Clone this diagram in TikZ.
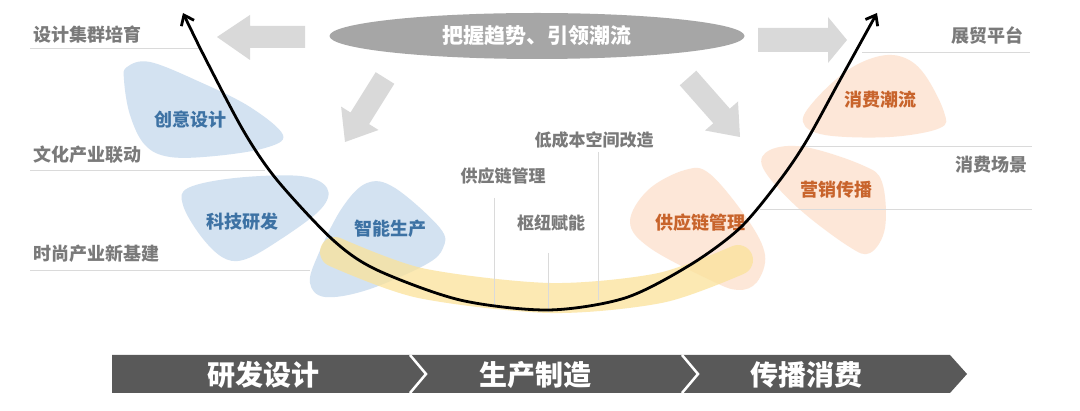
\documentclass[tikz,border=0pt]{standalone}
\usepackage{fontspec}
\newfontfamily\cjk{Noto Sans CJK SC}[BoldFont={Noto Sans CJK SC Black}]
\usetikzlibrary{arrows.meta,shapes.geometric}
\definecolor{labelgray}{HTML}{7A7A7A}
\definecolor{ellgray}{HTML}{A6A6A6}
\definecolor{arrgray}{HTML}{D9D9D9}
\definecolor{blobblue}{HTML}{D3E2F1}
\definecolor{txtblue}{HTML}{3D72A4}
\definecolor{bloborange}{HTML}{FDE7D8}
\definecolor{txtorange}{HTML}{C8642C}
\definecolor{bandyellow}{HTML}{FBE29A}
\definecolor{bargray}{HTML}{595959}
\definecolor{linegray}{HTML}{DADADA}
\tikzset{
  lbl/.style={font=\cjk\bfseries\fontsize{18}{18}\selectfont, text=labelgray, inner sep=0pt},
  mid/.style={font=\cjk\bfseries\fontsize{17}{17}\selectfont, text=labelgray, inner sep=0pt},
  bluetxt/.style={font=\cjk\bfseries\fontsize{18}{18}\selectfont, text=txtblue, inner sep=0pt},
  oratxt/.style={font=\cjk\bfseries\fontsize{18}{18}\selectfont, text=txtorange, inner sep=0pt},
  bartxt/.style={font=\cjk\bfseries\fontsize{28}{28}\selectfont, text=white, inner sep=0pt},
  hline/.style={draw=linegray, line width=0.8pt},
  vline/.style={draw=linegray, line width=0.8pt},
  blobb/.style={fill=blobblue},
  bloba/.style={fill=bloborange},
  blockarrow/.style={fill=arrgray},
}
\begin{document}
\begin{tikzpicture}[x=1pt,y=-1pt]
\useasboundingbox (0,0) rectangle (1080,411);
\fill[white] (0,0) rectangle (1080,411);

% blobs
\fill[blobb] plot[smooth cycle, tension=0.6] coordinates {(127,67) (150,62) (200,82) (250,107) (283,135) (265,148) (215,156) (170,157) (145,145) (130,115) (124,80)};
\fill[blobb] plot[smooth cycle, tension=0.6] coordinates {(188,188) (235,178) (300,176) (327,188) (320,210) (275,243) (243,260) (222,257) (200,235) (183,205)};
\fill[blobb] plot[smooth cycle, tension=0.6] coordinates {(367,183) (395,188) (440,228) (443,248) (425,265) (367,290) (325,297) (310,283) (318,255) (342,208)};
\fill[bloba] plot[smooth cycle, tension=0.6] coordinates {(880,56) (848,70) (815,100) (803,122) (825,135) (890,137) (940,128) (944,112) (925,75) (905,58)};
\fill[bloba] plot[smooth cycle, tension=0.6] coordinates {(770,150) (805,147) (862,165) (882,182) (885,228) (870,253) (848,246) (797,207) (763,168)};
\fill[bloba] plot[smooth cycle, tension=0.6] coordinates {(685,170) (710,174) (748,220) (765,255) (757,282) (738,290) (710,280) (650,248) (630,222) (648,190)};

% yellow band
\draw[bandyellow, opacity=0.75, line width=30pt, line cap=round]
  plot[smooth] coordinates {(335,252) (420,283) (550,298) (660,288) (738,260)};

% guide lines
\draw[hline] (30,48) -- (200,48);
\draw[hline] (30,170) -- (265,170);
\draw[hline] (30,270) -- (310,270);
\draw[hline] (862,52) -- (1030,52);
\draw[hline] (800,146) -- (1032,146);
\draw[hline] (760,209) -- (1032,209);
\draw[vline] (494,198) -- (494,305);
\draw[vline] (548,253) -- (548,312);
\draw[vline] (598,152) -- (598,300);

% block arrows
\fill[blockarrow] (305,26) -- (250,26) -- (250,15) -- (217,37) -- (250,60) -- (250,48) -- (305,48) -- cycle;
\fill[blockarrow] (758,28) -- (828,28) -- (828,17) -- (847,40) -- (828,63) -- (828,52) -- (758,52) -- cycle;
\fill[blockarrow] (375.7,72.2) -- (350.5,112.5) -- (341.1,106.6) -- (345,142) -- (378.5,130) -- (369.1,124.1) -- (394.3,83.8) -- cycle;
\fill[blockarrow] (696.3,70.7) -- (729.8,108.7) -- (738,101.5) -- (740,137) -- (705,130.5) -- (713.3,123.3) -- (679.8,85.3) -- cycle;

% ellipse
\node[ellipse, fill=ellgray, minimum width=415pt, minimum height=46pt, inner sep=0pt,
  font=\cjk\bfseries\fontsize{21}{21}\selectfont, text=white] (trend) at (537,36) {把握趋势、引领潮流};

% side labels
\node[lbl] (l1) at (88,35) {设计集群培育};
\node[lbl] (l2) at (88,155) {文化产业联动};
\node[lbl] (l3) at (97,254) {时尚产业新基建};
\node[lbl] (r1) at (987,36) {展贸平台};
\node[lbl] (r2) at (991,165) {消费场景};

% middle labels
\node[mid] (m1) at (503,176) {供应链管理};
\node[mid] (m2) at (551,223) {枢纽赋能};
\node[mid] (m3) at (594,140) {低成本空间改造};

% blob labels
\node[bluetxt] (b1) at (190,120) {创意设计};
\node[bluetxt] (b2) at (242,222) {科技研发};
\node[bluetxt] (b3) at (390,229) {智能生产};
\node[oratxt] (o1) at (880,100) {消费潮流};
\node[oratxt] (o2) at (836,190) {营销传播};
\node[oratxt] (o3) at (700,223) {供应链管理};

% smile curve
\draw[line width=2.8pt, {Straight Barb[length=9pt,width=14pt]}-{Straight Barb[length=9pt,width=14pt]}]
  plot[smooth] coordinates {(183,13) (200,48) (243,130) (277,180) (333,240) (377,270) (460,300) (548,310) (625,298) (690,265) (740,228) (780,180) (807,140) (840,80) (877,13)};

% bottom bar
\fill[bargray] (112,355) -- (950,355) -- (967,374) -- (950,393) -- (112,393) -- cycle;
\draw[white, line width=2.5pt] (410,355) -- (426,374) -- (410,393);
\draw[white, line width=2.5pt] (682,355) -- (698,374) -- (682,393);
\node[bartxt] (s1) at (263,375) {研发设计};
\node[bartxt] (s2) at (535,375) {生产制造};
\node[bartxt] (s3) at (806,375) {传播消费};
\end{tikzpicture}
\end{document}
